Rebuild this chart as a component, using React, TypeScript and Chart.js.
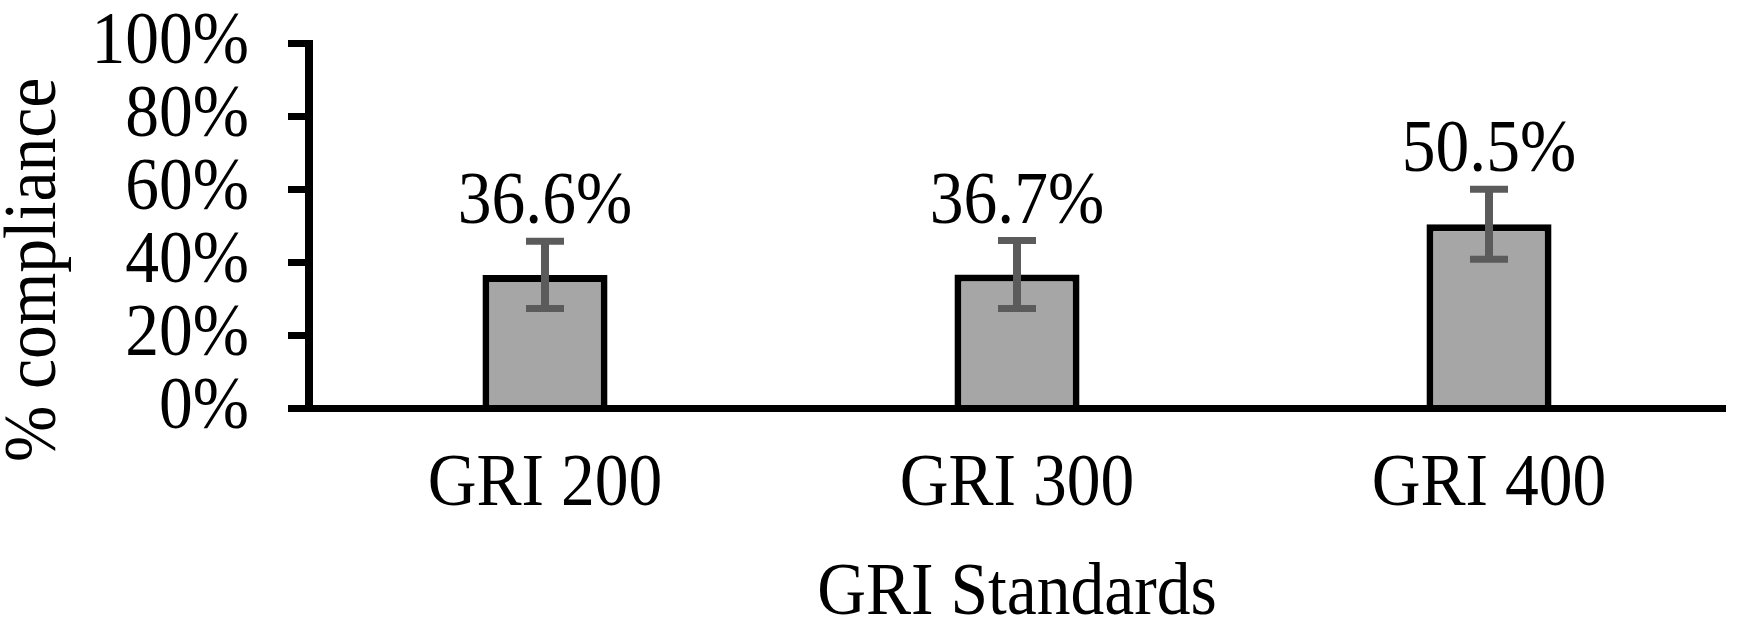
import React, { useEffect, useRef } from 'react';
import { Chart, registerables } from 'chart.js';

Chart.register(...registerables);

const categories = ['GRI 200', 'GRI 300', 'GRI 400'];
const compliance = [36.6, 36.7, 50.5];
const errorMargins = [9.2, 9.3, 9.6];
const yTicks = [0, 20, 40, 60, 80, 100];
const yTitle = '% compliance';
const xTitle = 'GRI Standards';

const FONT = "'Liberation Serif', 'Times New Roman', serif";
const FONT_SIZE = 75;
const TEXT_SCALE_X = 0.9;
const W = 1756;
const H = 641;

// Draws all canvas text slightly condensed, like the reference's narrow serif rendering.
function condenseText(ctx: any) {
  if (ctx.__condensed) return;
  const orig = ctx.fillText.bind(ctx);
  ctx.fillText = (text: string, x: number, y: number, maxWidth?: number) => {
    ctx.save();
    ctx.translate(x, y);
    ctx.scale(TEXT_SCALE_X, 1);
    if (maxWidth === undefined) orig(text, 0, 0);
    else orig(text, 0, 0, maxWidth / TEXT_SCALE_X);
    ctx.restore();
  };
  ctx.__condensed = true;
}

const errorBarPlugin = {
  id: 'errorBars',
  afterDatasetsDraw(chart: any) {
    const ctx = chart.ctx;
    const y = chart.scales.y;
    const meta = chart.getDatasetMeta(0);
    ctx.save();
    meta.data.forEach((bar: any, i: number) => {
      const x = bar.x;
      const hi = y.getPixelForValue(compliance[i] + errorMargins[i]);
      const lo = y.getPixelForValue(compliance[i] - errorMargins[i]);
      ctx.strokeStyle = '#5b5b5b';
      ctx.lineCap = 'butt';
      ctx.lineWidth = 8;
      ctx.beginPath();
      ctx.moveTo(x, hi);
      ctx.lineTo(x, lo);
      ctx.stroke();
      ctx.lineWidth = 7;
      ctx.beginPath();
      ctx.moveTo(x - 19, hi);
      ctx.lineTo(x + 19, hi);
      ctx.moveTo(x - 19, lo);
      ctx.lineTo(x + 19, lo);
      ctx.stroke();
      ctx.fillStyle = '#000';
      ctx.font = `${FONT_SIZE}px ${FONT}`;
      ctx.textAlign = 'center';
      ctx.textBaseline = 'alphabetic';
      ctx.fillText(compliance[i].toFixed(1) + '%', x, hi - 18);
    });
    ctx.restore();
  },
};

const yTitlePlugin = {
  id: 'yTitle',
  afterDraw(chart: any) {
    const ctx = chart.ctx;
    ctx.save();
    ctx.translate(55, 270);
    ctx.rotate(-Math.PI / 2);
    ctx.fillStyle = '#000';
    ctx.font = `${FONT_SIZE}px ${FONT}`;
    ctx.textAlign = 'center';
    ctx.textBaseline = 'alphabetic';
    ctx.fillText(yTitle, 0, 0);
    ctx.restore();
  },
};

export default function App() {
  const ref = useRef<HTMLCanvasElement | null>(null);

  useEffect(() => {
    document.body.style.margin = '0';
    const canvas = ref.current;
    if (!canvas) return;
    const ctx2d = canvas.getContext('2d');
    condenseText(ctx2d);
    const chart = new Chart(canvas, {
      type: 'bar',
      data: {
        labels: categories,
        datasets: [
          {
            data: compliance,
            backgroundColor: '#a6a6a6',
            borderColor: '#000000',
            borderWidth: 7,
            categoryPercentage: 1,
            barPercentage: 0.265,
          },
        ],
      },
      options: {
        animation: false,
        responsive: false,
        devicePixelRatio: 1,
        layout: { padding: { top: 43.5, right: 31, bottom: 0, left: 0 } },
        plugins: {
          legend: { display: false },
          tooltip: { enabled: false },
        },
        scales: {
          x: {
            grid: { display: false },
            border: { display: true, color: '#000', width: 7 },
            ticks: {
              color: '#000',
              font: { family: FONT, size: FONT_SIZE },
              padding: 24,
              maxRotation: 0,
              autoSkip: false,
            },
            title: {
              display: true,
              text: xTitle,
              color: '#000',
              font: { family: FONT, size: FONT_SIZE },
              padding: { top: 0, bottom: 2 },
            },
            afterFit: (s: any) => {
              s.height = 232.5;
              s.paddingLeft = 0;
              s.paddingRight = 0;
            },
          },
          y: {
            min: 0,
            max: 100,
            grid: {
              display: true,
              drawOnChartArea: false,
              drawTicks: true,
              tickLength: 21,
              lineWidth: 7,
              color: '#000',
            },
            border: { display: true, color: '#000', width: 8 },
            ticks: {
              color: '#000',
              font: { family: FONT, size: FONT_SIZE },
              padding: 39,
              autoSkip: false,
              callback: (v: any) => v + '%',
            },
            afterBuildTicks: (s: any) => {
              s.ticks = yTicks.map((v) => ({ value: v }));
            },
            afterFit: (s: any) => {
              s.width = 309;
              s.paddingTop = 0;
              s.paddingBottom = 0;
            },
          },
        },
      },
      plugins: [errorBarPlugin, yTitlePlugin],
    });
    return () => chart.destroy();
  }, []);

  return <canvas ref={ref} width={W} height={H} style={{ display: 'block', width: W, height: H }} />;
}
